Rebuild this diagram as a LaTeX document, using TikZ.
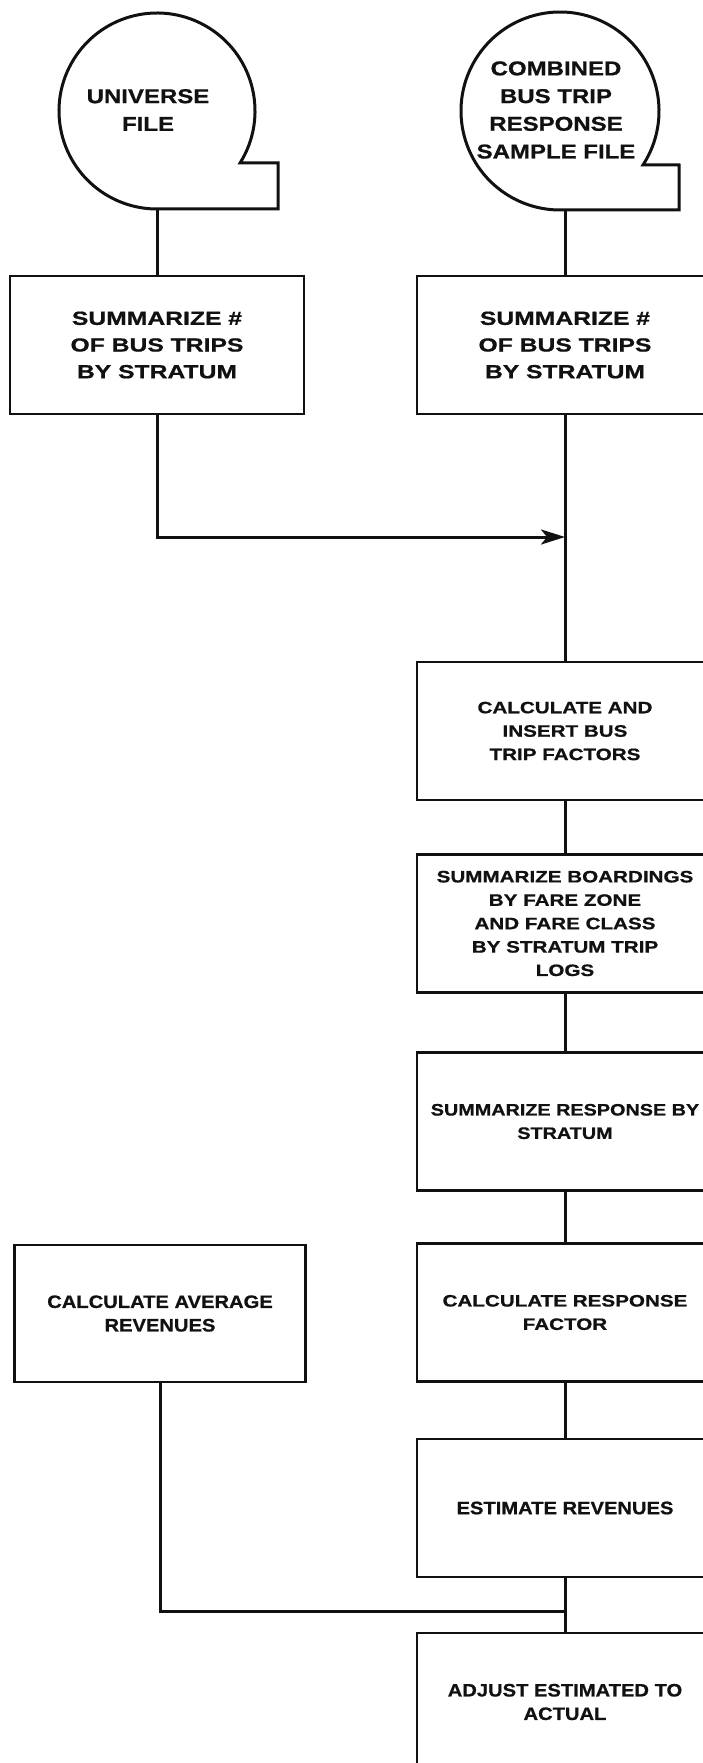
\documentclass[tikz,border=0pt]{standalone}
\usepackage{fontspec}
\usetikzlibrary{arrows.meta}
\newfontfamily\chartfont[FakeStretch=1.2,FakeBold=0.8]{Liberation Sans}
\newfontfamily\chartxwide[FakeStretch=1.3,FakeBold=0.8]{Liberation Sans}
\newfontfamily\chartwide[FakeStretch=1.25,FakeBold=0.8]{Liberation Sans}
\newfontfamily\chartnarrow[FakeStretch=1.12,FakeBold=0.8]{Liberation Sans}
\definecolor{FCInk}{HTML}{111111}
\tikzset{
  link/.style={FCInk,line width=3pt},
  flow/.style={link,-{Stealth[length=24pt,width=15pt,inset=6pt]}},
  fileline/.style={draw=FCInk,line width=3pt,line join=miter},
  filebody/.style={circle,minimum size=196pt,inner sep=0pt,outer sep=0pt},
  filetext/.style={text=FCInk,align=center,font=\chartfont\bfseries\fontsize{20}{27.7}\selectfont},
  proc/.style={draw=FCInk,line width=2.8pt,minimum width=294pt,minimum height=138pt,
               inner sep=0pt,outer sep=0pt,align=center,text=FCInk},
  procsum/.style={proc,font=\chartxwide\bfseries\fontsize{19}{26.7}\selectfont},
  procwide/.style={proc,minimum width=296pt,font=\chartwide\bfseries\fontsize{16.5}{23.4}\selectfont},
  procplain/.style={proc,font=\chartnarrow\bfseries\fontsize{18}{23.5}\selectfont},
}
\begin{document}
\begin{tikzpicture}[x=1pt,y=1pt]
  \useasboundingbox (0,0) rectangle (703,-1763);
  \clip (0,0) rectangle (703,-1763);
  \fill[white] (0,0) rectangle (703,-1763);

  \node[filebody] (uni) at (157,-111) {};
  \node[filetext] (uniT) at (148,-110) {UNIVERSE\\FILE};
  \draw[fileline] (uni.-32) arc[start angle=-32,end angle=270,radius=98]
    -- ++(121,0) -- ++(0,46) -- cycle;

  \node[filebody,minimum size=198pt] (res) at (560,-111) {};
  \node[filetext] (resT) at (556,-110) {COMBINED\\BUS TRIP\\RESPONSE\\SAMPLE FILE};
  \draw[fileline] (res.-33) arc[start angle=-33,end angle=270,radius=99]
    -- ++(119,0) -- ++(0,45) -- cycle;

  \node[procsum] (sumU) at (157,-345) {SUMMARIZE \#\\OF BUS TRIPS\\BY STRATUM};
  \node[procsum,minimum width=296pt] (sumS) at (565,-345) {SUMMARIZE \#\\OF BUS TRIPS\\BY STRATUM};
  \node[procwide] (ins) at (565,-731) {CALCULATE AND\\INSERT BUS\\TRIP FACTORS};
  \node[procwide] (brd) at (565,-923.5)
    {SUMMARIZE BOARDINGS\\BY FARE ZONE\\AND FARE CLASS\\BY STRATUM TRIP\\LOGS};
  \node[procwide,font=\chartfont\bfseries\fontsize{16.5}{23.4}\selectfont] (rsp) at (565,-1121.5)
    {SUMMARIZE RESPONSE BY\\STRATUM};
  \node[procwide] (rfac) at (565,-1312.5) {CALCULATE RESPONSE\\FACTOR};
  \node[procplain,minimum width=291pt,minimum height=137pt] (avg) at (160,-1313.5)
    {CALCULATE AVERAGE\\REVENUES};
  \node[procplain,minimum width=296pt] (est) at (565,-1508) {ESTIMATE REVENUES};
  \node[procplain,minimum width=296pt] (adj) at (565,-1702) {ADJUST ESTIMATED TO\\ACTUAL};

  \coordinate (mrg) at (565,-537);
  \coordinate (tie) at (565,-1611);

  \draw[link] (uni) -- (sumU);
  \draw[link] (res.south -| sumS.north) -- (sumS);
  \draw[link] (sumS) -- (ins);
  \draw[flow] (sumU) |- (mrg);
  \draw[link] (ins) -- (brd);
  \draw[link] (brd) -- (rsp);
  \draw[link] (rsp) -- (rfac);
  \draw[link] (rfac) -- (est);
  \draw[link] (est) -- (adj);
  \draw[link] (avg) |- (tie);
\end{tikzpicture}
\end{document}
